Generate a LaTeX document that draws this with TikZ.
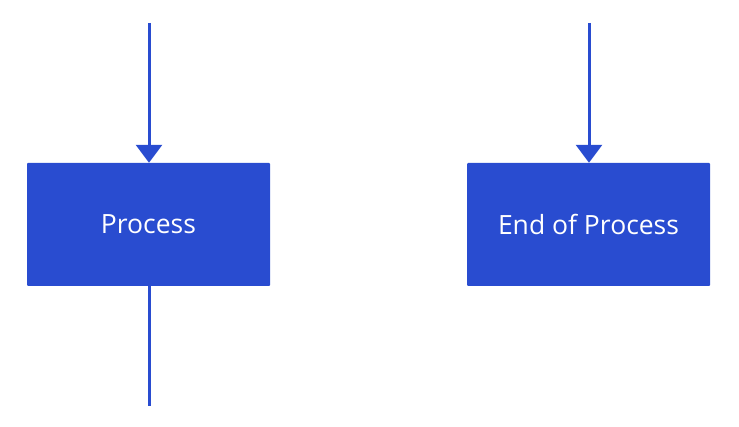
\documentclass[tikz,border=0pt]{standalone}
\usepackage{fontspec}
\setmainfont{Open Sans}
\usetikzlibrary{arrows.meta}
\begin{document}
\begin{tikzpicture}[x=1pt, y=-1pt]
            % Define colors
            \definecolor{flowblue}{RGB}{41, 76, 208}
            \tikzset{
                procbox/.style={fill=flowblue, text=white, minimum width=243pt, minimum height=123pt, inner sep=0pt, rounded corners=1pt, font=\fontsize{26.5}{30}\selectfont},
                flowline/.style={draw=flowblue, line width=3pt},
                flowarrow/.style={flowline, -{Triangle[width=26pt, length=18pt]}}
            }
            \useasboundingbox (0, 0) rectangle (739, 427);

            % Draw boxes
            \node[procbox] (process) at (148.5, 224.5) {Process};
            \node[procbox] (endproc) at (588.5, 224.5) {End of Process};

            % Add line ends
            \coordinate (topa) at (149, 23);
            \coordinate (topb) at (589, 23);
            \coordinate (bottoma) at (149, 406);

            % Draw connectors
            \draw[flowarrow] (topa) -- (process.north -| topa);
            \draw[flowarrow] (topb) -- (endproc.north -| topb);
            \draw[flowline] (process.south -| bottoma) -- (bottoma);
        \end{tikzpicture}
\end{document}
